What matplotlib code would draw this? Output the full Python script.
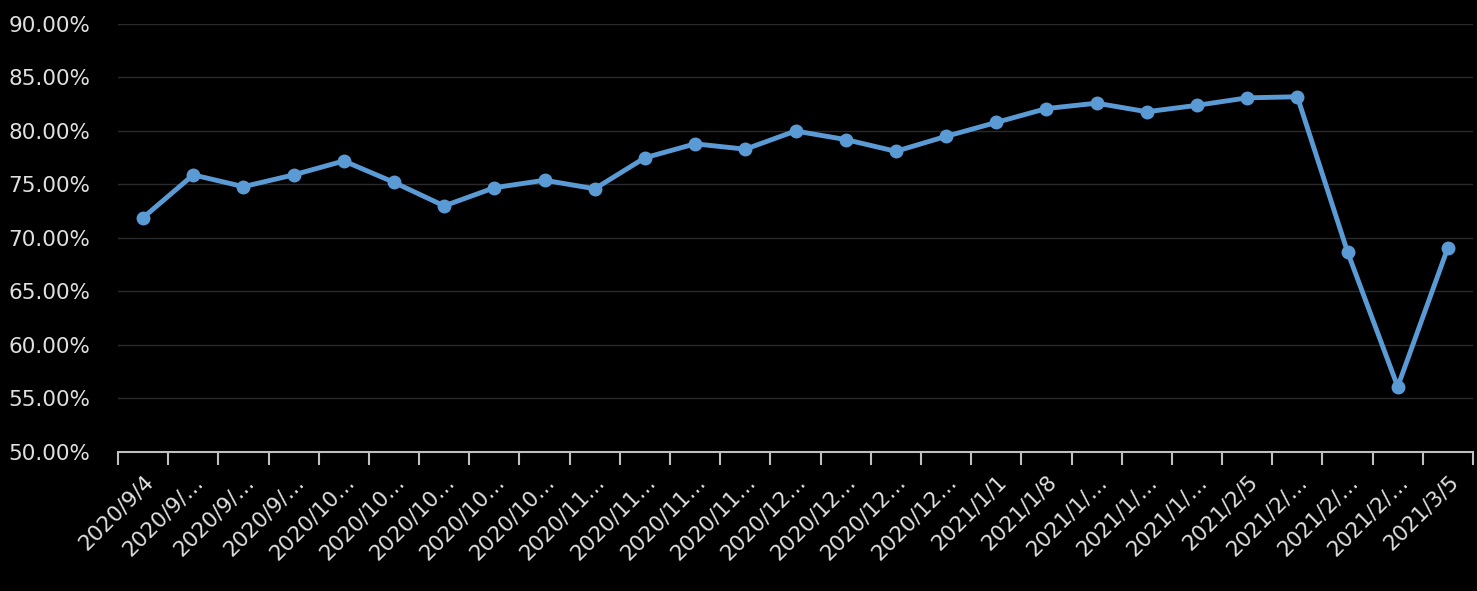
import matplotlib
matplotlib.use("Agg")
import matplotlib.pyplot as plt
from matplotlib.ticker import FuncFormatter

labels = ["2020/9/4","2020/9/…","2020/9/…","2020/9/…","2020/10…","2020/10…","2020/10…","2020/10…","2020/10…",
          "2020/11…","2020/11…","2020/11…","2020/11…","2020/12…","2020/12…","2020/12…","2020/12…",
          "2021/1/1","2021/1/8","2021/1/…","2021/1/…","2021/1/…","2021/2/5","2021/2/…","2021/2/…","2021/2/…","2021/3/5"]
values = [71.9,75.9,74.8,75.9,77.2,75.2,73.0,74.7,75.4,74.6,77.5,78.8,78.3,80.0,79.2,78.1,79.5,80.8,
          82.1,82.6,81.8,82.4,83.1,83.2,68.7,56.1,69.1]

fig = plt.figure(figsize=(14.77,5.91), dpi=100, facecolor="black")
ax = fig.add_axes([118/1477, 1-452/591, (1473-118)/1477, (452-24)/591], facecolor="black")
x = list(range(len(values)))
ax.plot(x, values, color="#5B9BD5", lw=3.5, marker="o", ms=9, zorder=3)
ax.set_xlim(-0.5, len(values)-0.5)
ax.set_ylim(50, 90)
ax.set_yticks(range(50, 91, 5))
ax.yaxis.set_major_formatter(FuncFormatter(lambda v, p: f"{v:.2f}%"))
ax.grid(axis="y", color="#2A2A2A", lw=1)
ax.set_axisbelow(True)
for s in ["top","right","left"]:
    ax.spines[s].set_visible(False)
ax.spines["bottom"].set_color("#BFBFBF")
ax.spines["bottom"].set_linewidth(1.5)
ax.tick_params(axis="y", length=0, colors="#E0E0E0", labelsize=15.5, pad=20)
ax.set_xticks([i-0.5 for i in range(len(values)+1)], minor=False)
ax.set_xticklabels([])
ax.tick_params(axis="x", which="major", length=9, color="#BFBFBF", width=1.5)
ax.set_xticks(x, minor=True)
ax.set_xticklabels(labels, minor=True, rotation=45, ha="right", rotation_mode="anchor", color="#E0E0E0", fontsize=15.5)
ax.tick_params(axis="x", which="minor", length=0, pad=14)
fig.savefig("out.png", facecolor="black")
